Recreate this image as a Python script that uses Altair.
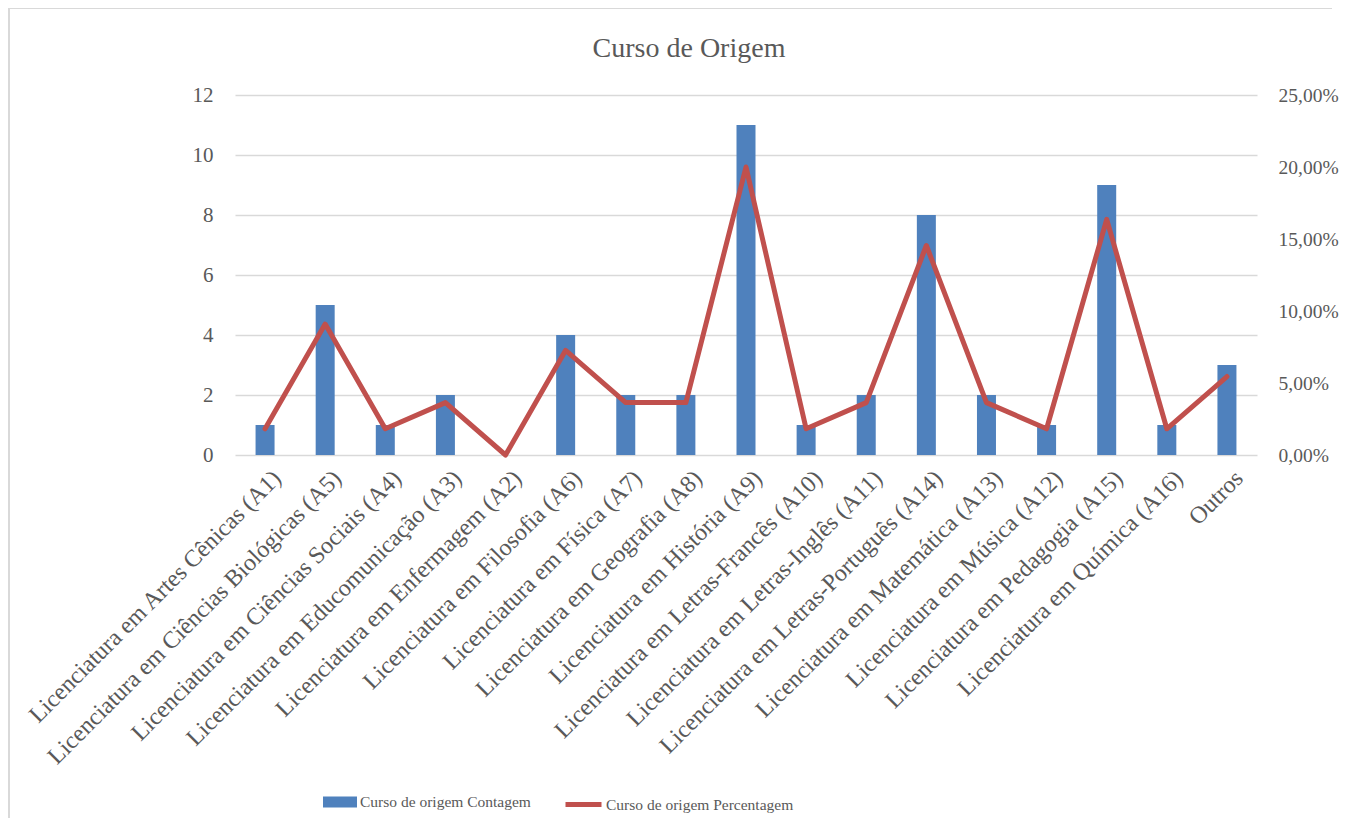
import altair as alt
import pandas as pd

categorias = [
    "Licenciatura em Artes Cênicas (A1)",
    "Licenciatura em Ciências Biológicas (A5)",
    "Licenciatura em Ciências Sociais (A4)",
    "Licenciatura em Educomunicação (A3)",
    "Licenciatura em Enfermagem (A2)",
    "Licenciatura em Filosofia (A6)",
    "Licenciatura em Física (A7)",
    "Licenciatura em Geografia (A8)",
    "Licenciatura em História (A9)",
    "Licenciatura em Letras-Francês (A10)",
    "Licenciatura em Letras-Inglês (A11)",
    "Licenciatura em Letras-Português (A14)",
    "Licenciatura em Matemática (A13)",
    "Licenciatura em Música (A12)",
    "Licenciatura em Pedagogia (A15)",
    "Licenciatura em Química (A16)",
    "Outros",
]
contagem = [1, 5, 1, 2, 0, 4, 2, 2, 11, 1, 2, 8, 2, 1, 9, 1, 3]
percentagem = [0.0182, 0.0909, 0.0182, 0.0364, 0.0, 0.0727, 0.0364, 0.0364, 0.2000,
               0.0182, 0.0364, 0.1455, 0.0364, 0.0182, 0.1636, 0.0182, 0.0545]
serie_barras = "Curso de origem Contagem"
serie_linha = "Curso de origem Percentagem"
y_esq_ticks = [0, 2, 4, 6, 8, 10, 12]
y_dir_ticks = [0, 0.05, 0.10, 0.15, 0.20, 0.25]

df = pd.DataFrame({
    "curso": categorias,
    "contagem": contagem,
    "percentagem": percentagem,
    "s1": [serie_barras] * len(categorias),
    "s2": [serie_linha] * len(categorias),
})

FONT = "Liberation Serif"
TXT = "#595959"
BLUE = "#4f81bd"
RED = "#c0504d"

x_enc = alt.X(
    "curso:N", sort=None, title=None,
    scale=alt.Scale(paddingInner=0, paddingOuter=0),
    axis=alt.Axis(labelAngle=-45, labelFontSize=24, labelFont=FONT, labelColor=TXT,
                  ticks=False, domain=False, labelPadding=11, labelOffset=4,
                  labelLimit=0, grid=False),
)

bars = alt.Chart(df).mark_bar(size=19, color=BLUE).encode(
    x=x_enc,
    y=alt.Y("contagem:Q", title=None, scale=alt.Scale(domain=[0, 12], nice=False),
            axis=alt.Axis(values=y_esq_ticks, labelFontSize=21, labelFont=FONT, labelColor=TXT,
                          ticks=False, domain=False, labelPadding=22,
                          gridColor="#d9d9d9", gridWidth=1.5)),
    color=alt.Color("s1:N", scale=alt.Scale(range=[BLUE]),
                    legend=alt.Legend(title=None, orient="none", legendX=88, legendY=690,
                                      symbolType="M-1,-0.3235H1V0.3235H-1Z", symbolSize=1156,
                                      symbolStrokeWidth=0, labelFontSize=15.5, labelFont=FONT,
                                      labelColor=TXT, labelOffset=3, padding=0, labelLimit=0)),
)

line = alt.Chart(df).mark_line(color=RED, strokeWidth=5, strokeJoin="round", strokeCap="round").encode(
    x=x_enc,
    y=alt.Y("percentagem:Q", title=None, scale=alt.Scale(domain=[0, 0.25], nice=False),
            axis=alt.Axis(orient="right", values=y_dir_ticks, labelFontSize=19.5, labelFont=FONT,
                          labelColor=TXT, ticks=False, domain=False, labelPadding=21, grid=False,
                          labelExpr="replace(format(datum.value, '.2%'), '.', ',')")),
    color=alt.Color("s2:N", scale=alt.Scale(range=[RED]),
                    legend=alt.Legend(title=None, orient="none", legendX=328, legendY=689,
                                      symbolType="stroke", symbolSize=1296, symbolStrokeWidth=5,
                                      labelFontSize=15.5, labelFont=FONT, labelColor=TXT,
                                      labelOffset=2, padding=0, labelLimit=0)),
)

borda_df = pd.DataFrame({"a": [0]})
borda_topo = alt.Chart(borda_df).mark_rule(color="#d9d9d9", strokeWidth=2).encode(
    x=alt.value(-226), x2=alt.value(1097), y=alt.value(-87))
borda_esq = alt.Chart(borda_df).mark_rule(color="#d9d9d9", strokeWidth=2).encode(
    x=alt.value(-226), y=alt.value(-87), y2=alt.value(723))

chart = alt.layer(bars, line, borda_topo, borda_esq).resolve_scale(
    y="independent", color="independent"
).properties(
    width=1022, height=360,
    title=alt.TitleParams("Curso de Origem", fontSize=28, font=FONT, color=TXT,
                          fontWeight="normal", anchor="middle", dx=-57, offset=-56),
    autosize=alt.AutoSizeParams(type="none"),
    padding={"left": 227, "top": 87, "right": 83, "bottom": 363},
).configure_view(stroke=None)

chart.save("out.html", embed_options={"renderer": "svg", "actions": False})
